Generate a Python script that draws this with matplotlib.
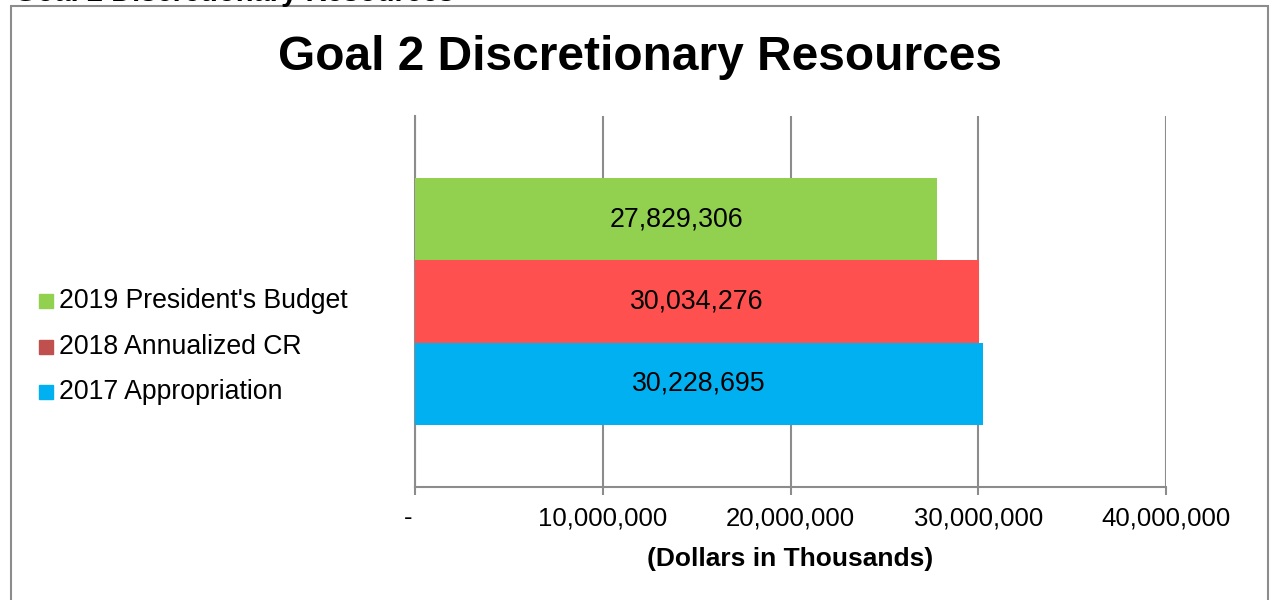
import matplotlib
matplotlib.use("Agg")
import matplotlib.pyplot as plt
from matplotlib.patches import Rectangle
from matplotlib.ticker import FuncFormatter

plt.rcParams["font.family"] = ["Liberation Sans", "DejaVu Sans"]

# data (top to bottom as shown in the chart)
series = ["2019 President's Budget", "2018 Annualized CR", "2017 Appropriation"]
values = [27829306, 30034276, 30228695]
bar_colors = ["#92D050", "#FF5050", "#00B0F0"]
legend_colors = ["#92D050", "#C0504D", "#00B0F0"]
xticks = [0, 10000000, 20000000, 30000000, 40000000]

W, H = 1270, 600
fig = plt.figure(figsize=(W / 100, H / 100), dpi=100)
fig.patch.set_facecolor("white")

# frame around chart (bottom runs off the image)
fig.add_artist(Rectangle((11 / W, -0.05), (1268 - 11) / W, 1.05 - 6 / H,
                         transform=fig.transFigure, fill=False, ec="#8c8c8c", lw=1.5))

# heading above frame, mostly cut off by the top edge
fig.text(14 / W, 1 - 1.2 / H, "Goal 2 Discretionary Resources", fontsize=21,
         fontweight="bold", va="baseline", ha="left")

ax = fig.add_axes([415 / W, 1 - 487 / H, 751 / W, 371 / H])
h = 0.222
offsets = [h, 0, -h]
for v, c, off in zip(values, bar_colors, offsets):
    ax.barh(off, v, height=h, color=c, zorder=3)
    ax.text(v / 2, off, f"{v:,}", ha="center", va="center", fontsize=19.3, zorder=4)

ax.set_xlim(0, 40000000)
ax.set_ylim(-0.5, 0.5)
ax.set_xticks(xticks)
ax.xaxis.set_major_formatter(FuncFormatter(lambda x, p: "-  " if x == 0 else f"{x:,.0f}"))
ax.set_yticks([])
ax.grid(axis="x", color="#8c8c8c", lw=1.5, zorder=1)
for s in ["top", "right"]:
    ax.spines[s].set_visible(False)
for s in ["left", "bottom"]:
    ax.spines[s].set_color("#8c8c8c")
    ax.spines[s].set_linewidth(1.5)
ax.tick_params(axis="x", direction="out", length=6, width=1.5, color="#8c8c8c",
               labelsize=18.5, pad=8)
ax.set_xlabel("(Dollars in Thousands)", fontsize=19, fontweight="bold", labelpad=12)

# title
fig.text(640 / W, 1 - 58 / H, "Goal 2 Discretionary Resources", fontsize=34.5,
         fontweight="bold", ha="center", va="center")

# legend
rows = [301, 347, 392]
for lab, c, y in zip(series, legend_colors, rows):
    fig.add_artist(Rectangle((39 / W, 1 - (y + 7) / H), 14 / W, 14 / H,
                             transform=fig.transFigure, color=c))
    fig.text(59 / W, 1 - y / H, lab, fontsize=19.2, ha="left", va="center")

fig.savefig("out.png", dpi=100, facecolor="white")
